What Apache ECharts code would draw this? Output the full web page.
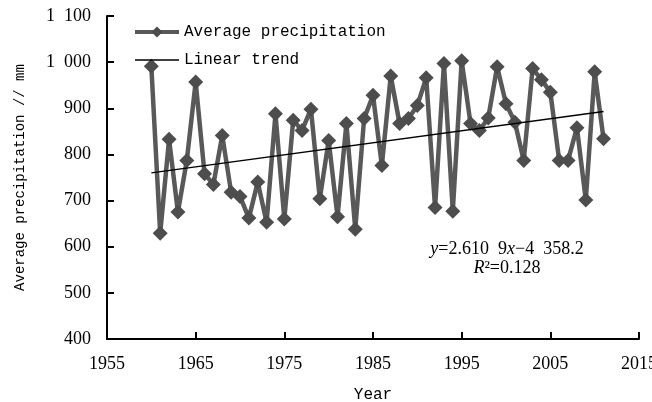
<!DOCTYPE html>
<html>
<head>
<meta charset="utf-8">
<script src="https://cdn.jsdelivr.net/npm/echarts@6/dist/echarts.min.js"></script>
<style>html,body{margin:0;padding:0;background:#fff;}#chart{width:652px;height:402px;}</style>
</head>
<body>
<div id="chart"></div>
<script>
const years = [1960,1961,1962,1963,1964,1965,1966,1967,1968,1969,1970,1971,1972,1973,1974,1975,1976,1977,1978,1979,1980,1981,1982,1983,1984,1985,1986,1987,1988,1989,1990,1991,1992,1993,1994,1995,1996,1997,1998,1999,2000,2001,2002,2003,2004,2005,2006,2007,2008,2009,2010,2011];
const precipitation = [991,629,833,675,787,957,758,735,841,718,709,662,740,653,888,660,874,852,898,704,830,665,867,638,878,928,776,970,867,878,906,966,685,997,677,1003,867,852,879,990,910,870,787,986,962,935,787,787,858,701,979,834];
const trendYears = [1960, 2011];
const trendValues = [760, 893];
const xTicks = [1955, 1965, 1975, 1985, 1995, 2005, 2015];
const yTickLabels = {400:'400',500:'500',600:'600',700:'700',800:'800',900:'900',1000:'1  000',1100:'1  100'};

const chart = echarts.init(document.getElementById('chart'), null, {renderer:'canvas'});
const serif = 'Liberation Serif';
const mono = 'Liberation Mono';
const axisCommon = {
  axisLine: {show:true, lineStyle:{color:'#000', width:2}},
  axisTick: {show:true, inside:true, length:7, lineStyle:{color:'#000', width:2}},
  splitLine: {show:false}
};
chart.setOption({
  animation: false,
  backgroundColor: '#fff',
  grid: {left:107, right:13, top:16, bottom:63, containLabel:false, outerBoundsMode:'none'},
  legend: {
    orient:'vertical', left:128, top:19, itemWidth:44, itemHeight:14, itemGap:12,
    textStyle:{fontFamily:mono, fontSize:16, color:'#000'},
    data:[
      {name:'Average precipitation', lineStyle:{width:4, color:'#595959'}, itemStyle:{color:'#4d4d4d'}},
      {name:'Linear trend', itemStyle:{opacity:0}, lineStyle:{width:1.3, color:'#000'}}
    ]
  },
  xAxis: Object.assign({}, axisCommon, {
    type:'value', min:xTicks[0], max:xTicks[xTicks.length-1], interval:10,
    name:'Year', nameLocation:'middle', nameGap:48,
    nameTextStyle:{fontFamily:mono, fontSize:16, color:'#000'},
    axisLabel:{fontFamily:serif, fontSize:18, color:'#000', margin:16, formatter:v=>String(v)}
  }),
  yAxis: Object.assign({}, axisCommon, {
    type:'value', min:400, max:1100, interval:100,
    name:'Average precipitation // mm', nameLocation:'middle', nameGap:80,
    nameTextStyle:{fontFamily:mono, fontSize:14, color:'#000'},
    axisLabel:{fontFamily:serif, fontSize:18, color:'#000', margin:16, formatter:v=>yTickLabels[v] || String(v)}
  }),
  series: [
    {
      name:'Average precipitation', type:'line',
      data: years.map((y,i)=>[y, precipitation[i]]),
      symbol:'diamond', symbolSize:[15,15],
      lineStyle:{color:'#595959', width:4.5},
      itemStyle:{color:'#4d4d4d'},
      z:2
    },
    {
      name:'Linear trend', type:'line',
      data: trendYears.map((y,i)=>[y, trendValues[i]]),
      symbol:'none',
      lineStyle:{color:'#000', width:1.3},
      itemStyle:{color:'#000'},
      z:3
    }
  ],
  graphic: [
    {type:'text', x:507, y:249, style:{
      text:'{i|y}=2.610  9{i|x}\u22124  358.2', align:'center', verticalAlign:'middle',
      font:'18px "Liberation Serif"', fill:'#000',
      rich:{i:{fontStyle:'italic', fontFamily:serif, fontSize:18}}
    }},
    {type:'text', x:507, y:268, style:{
      text:'{i|R}\u00b2=0.128', align:'center', verticalAlign:'middle',
      font:'18px "Liberation Serif"', fill:'#000',
      rich:{i:{fontStyle:'italic', fontFamily:serif, fontSize:18}}
    }}
  ]
});
</script>
</body>
</html>
